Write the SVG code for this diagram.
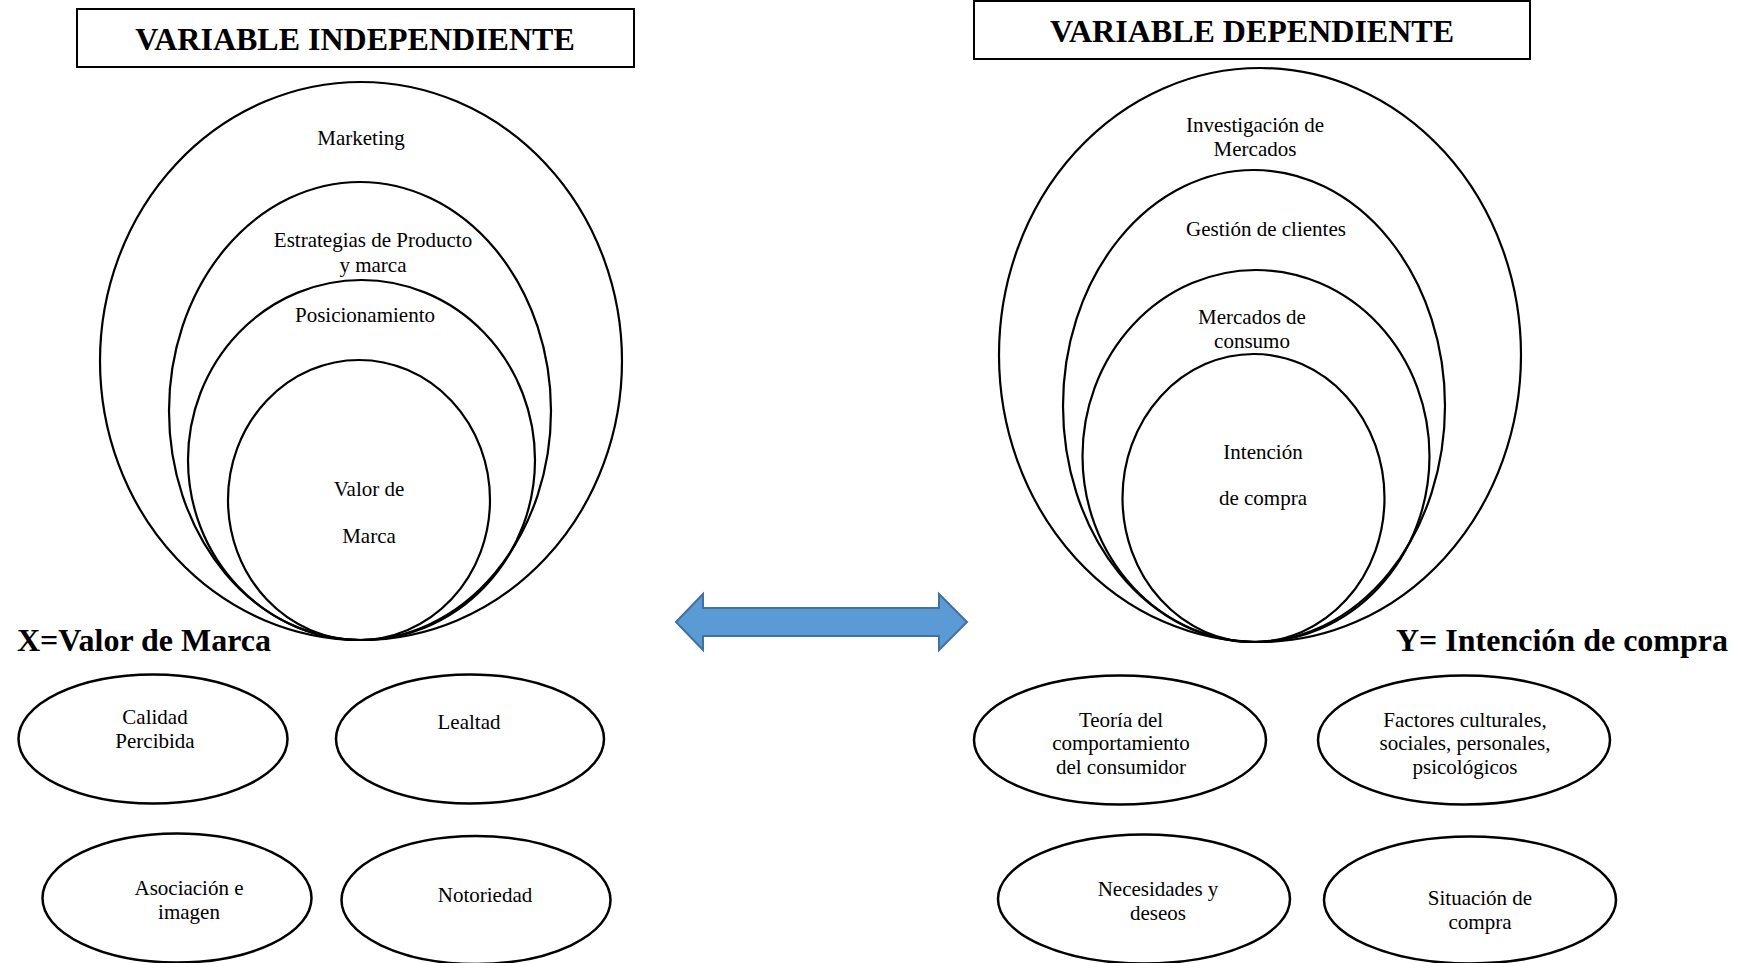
<svg xmlns="http://www.w3.org/2000/svg" width="1744" height="963" viewBox="0 0 1744 963">
<style>
.bg{fill:#ffffff}
.ring{fill:none;stroke:#000;stroke-width:2.2}
.node{fill:#fff;stroke:#000;stroke-width:2.5}
.box{fill:#fff;stroke:#000;stroke-width:2}
.t{font-family:"Liberation Serif","Times New Roman",serif;font-size:21px;fill:#000;text-anchor:middle}
.h{font-family:"Liberation Serif","Times New Roman",serif;font-size:32px;font-weight:bold;fill:#000;text-anchor:middle}
.lab{font-family:"Liberation Serif","Times New Roman",serif;font-size:32px;font-weight:bold;fill:#000}
.arrow{fill:#5B9BD5;stroke:#41719C;stroke-width:2;stroke-linejoin:miter}
</style>
<rect class="bg" x="0" y="0" width="1744" height="963"/>

<g id="title-independiente">
<rect class="box" x="77" y="9" width="557" height="58"/>
<text class="h" x="355" y="50">VARIABLE INDEPENDIENTE</text>
</g>
<g id="title-dependiente">
<rect class="box" x="974" y="1" width="556" height="58"/>
<text class="h" x="1252" y="42">VARIABLE DEPENDIENTE</text>
</g>

<g id="marketing">
<ellipse class="ring" cx="361" cy="361" rx="261" ry="279"/>
<text class="t" x="361" y="145">Marketing</text>
</g>
<g id="estrategias">
<ellipse class="ring" cx="360" cy="411" rx="191" ry="229"/>
<text class="t" x="373" y="247">Estrategias de Producto</text>
<text class="t" x="373" y="272">y marca</text>
</g>
<g id="posicionamiento">
<ellipse class="ring" cx="361.5" cy="460" rx="173.5" ry="180"/>
<text class="t" x="365" y="322">Posicionamiento</text>
</g>
<g id="valor-marca">
<ellipse class="ring" cx="359" cy="500" rx="131" ry="140"/>
<text class="t" x="369" y="496">Valor de</text>
<text class="t" x="369" y="543">Marca</text>
</g>

<g id="investigacion">
<ellipse class="ring" cx="1260" cy="355" rx="261" ry="287"/>
<text class="t" x="1255" y="132">Investigación de</text>
<text class="t" x="1255" y="156">Mercados</text>
</g>
<g id="gestion">
<ellipse class="ring" cx="1254" cy="406" rx="191" ry="236"/>
<text class="t" x="1266" y="236">Gestión de clientes</text>
</g>
<g id="mercados-consumo">
<ellipse class="ring" cx="1256" cy="456" rx="173.5" ry="186"/>
<text class="t" x="1252" y="324">Mercados de</text>
<text class="t" x="1252" y="348">consumo</text>
</g>
<g id="intencion">
<ellipse class="ring" cx="1253.5" cy="498" rx="131" ry="144"/>
<text class="t" x="1263" y="459">Intención</text>
<text class="t" x="1263" y="505">de compra</text>
</g>

<g id="label-x"><text class="lab" x="17" y="651">X=Valor de Marca</text></g>
<g id="label-y"><text class="lab" x="1396" y="651">Y= Intención de compra</text></g>

<g id="connectors">
<path class="arrow" d="M676,622 L703,594 L703,608 L939,608 L939,594 L967,622 L939,650 L939,636 L703,636 L703,650 Z"/>
</g>

<g id="calidad">
<ellipse class="node" cx="153" cy="739" rx="134.5" ry="64.5"/>
<text class="t" x="155" y="724">Calidad</text>
<text class="t" x="155" y="748">Percibida</text>
</g>
<g id="lealtad">
<ellipse class="node" cx="470" cy="739" rx="134" ry="64.5"/>
<text class="t" x="469" y="729">Lealtad</text>
</g>
<g id="asociacion">
<ellipse class="node" cx="177" cy="898" rx="134.5" ry="64.5"/>
<text class="t" x="189" y="895">Asociación e</text>
<text class="t" x="189" y="919">imagen</text>
</g>
<g id="notoriedad">
<ellipse class="node" cx="476" cy="900" rx="134.5" ry="64"/>
<text class="t" x="485" y="902">Notoriedad</text>
</g>

<g id="teoria">
<ellipse class="node" cx="1120" cy="740" rx="146" ry="64.5"/>
<text class="t" x="1121" y="727">Teoría del</text>
<text class="t" x="1121" y="750">comportamiento</text>
<text class="t" x="1121" y="774">del consumidor</text>
</g>
<g id="factores">
<ellipse class="node" cx="1464" cy="740" rx="146" ry="64.5"/>
<text class="t" x="1465" y="727">Factores culturales,</text>
<text class="t" x="1465" y="750">sociales, personales,</text>
<text class="t" x="1465" y="774">psicológicos</text>
</g>
<g id="necesidades">
<ellipse class="node" cx="1144" cy="899" rx="146" ry="64.5"/>
<text class="t" x="1158" y="896">Necesidades y</text>
<text class="t" x="1158" y="920">deseos</text>
</g>
<g id="situacion">
<ellipse class="node" cx="1470" cy="900" rx="146" ry="63.5"/>
<text class="t" x="1480" y="905">Situación de</text>
<text class="t" x="1480" y="929">compra</text>
</g>
</svg>
